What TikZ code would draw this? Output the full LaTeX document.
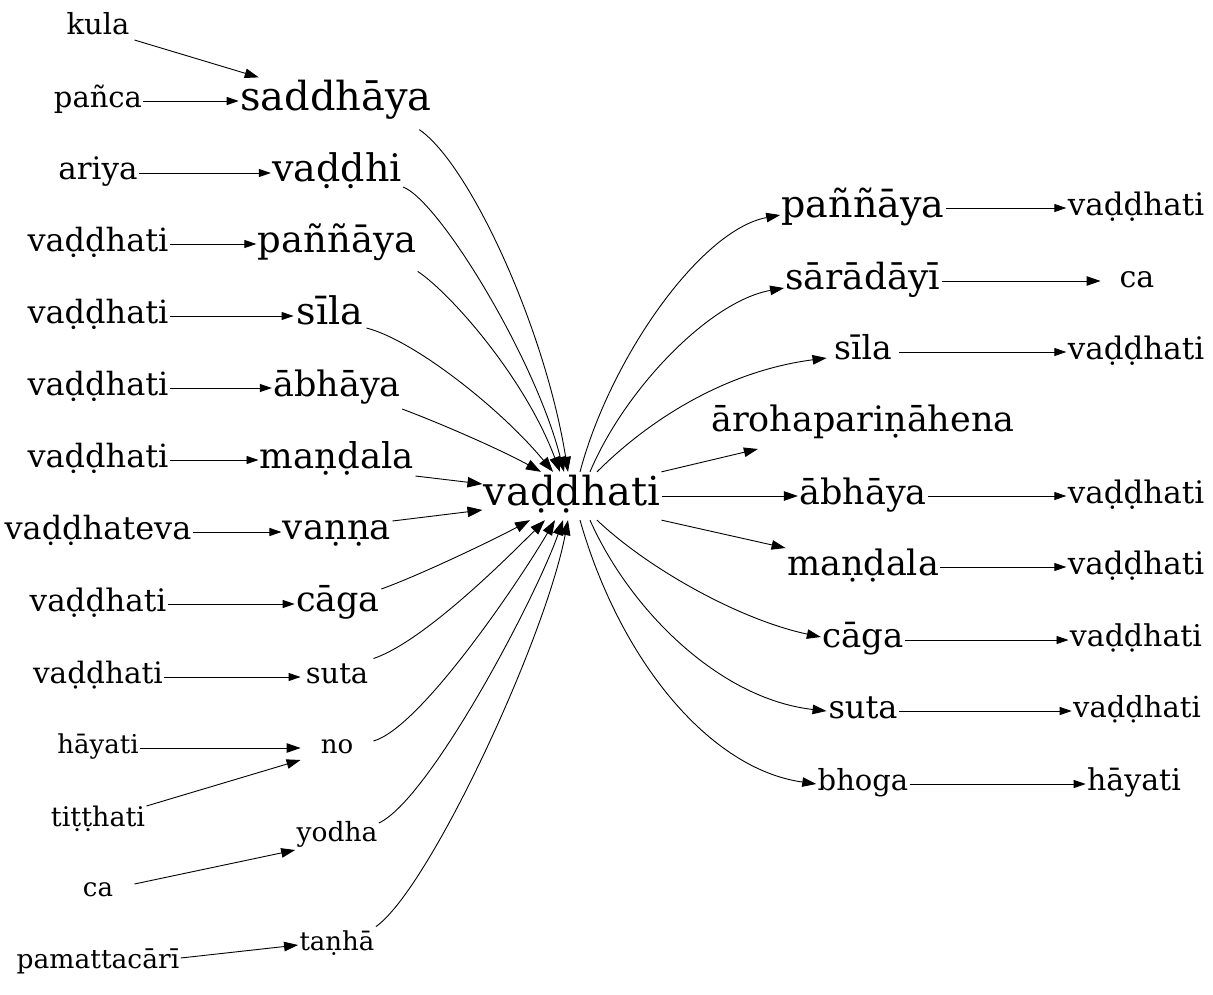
\documentclass[tikz,border=0pt]{standalone}
\usepackage{fontspec}
\setmainfont{DejaVu Serif}
\usetikzlibrary{arrows.meta}
\newcommand{\W}[2]{\fontsize{#1}{#1}\selectfont\rule[-0.3em]{0pt}{1.05em}#2}
\begin{document}
\begin{tikzpicture}[x=1pt,y=-1pt,line width=0.9pt,
  lbl/.style={inner xsep=1pt,inner ysep=2pt,minimum width=72pt,minimum height=36pt},
  sa/.style={-{Triangle[length=12pt,width=8pt]}},
  ma/.style={-{Triangle[length=14pt,width=9.5pt]}},
  ba/.style={-{Triangle[length=15pt,width=10.5pt]}}]
\useasboundingbox (0,0) rectangle (1213,995);
% left sources
\node[lbl] (s1) at (98,28) {\W{29}{kula}};
\node[lbl] (s2) at (98,101) {\W{29}{pañca}};
\node[lbl] (s3) at (98,173) {\W{31}{ariya}};
\node[lbl] (s4) at (98,244) {\W{32}{vaḍḍhati}};
\node[lbl] (s5) at (98,316) {\W{32}{vaḍḍhati}};
\node[lbl] (s6) at (98,388) {\W{32}{vaḍḍhati}};
\node[lbl] (s7) at (98,460) {\W{32}{vaḍḍhati}};
\node[lbl] (s8) at (98,532) {\W{32}{vaḍḍhateva}};
\node[lbl] (s9) at (98,604) {\W{31}{vaḍḍhati}};
\node[lbl] (s10) at (98,677) {\W{29.5}{vaḍḍhati}};
\node[lbl] (s11) at (98,748) {\W{26}{hāyati}};
\node[lbl] (s12) at (98,820) {\W{27}{tiṭṭhati}};
\node[lbl] (s13) at (98,891) {\W{26}{ca}};
\node[lbl] (s14) at (98,963) {\W{26.5}{pamattacārī}};
% middle
\node[lbl] (m1) at (336,101) {\W{40}{saddhāya}};
\node[lbl] (m2) at (337,173) {\W{38}{vaḍḍhi}};
\node[lbl] (m3) at (337,244) {\W{37}{paññāya}};
\node[lbl] (m4) at (330,316) {\W{38}{sīla}};
\node[lbl] (m5) at (337,388) {\W{35}{ābhāya}};
\node[lbl] (m6) at (337,460) {\W{35.5}{maṇḍala}};
\node[lbl] (m7) at (337,532) {\W{35.5}{vaṇṇa}};
\node[lbl] (m8) at (338,604) {\W{35}{cāga}};
\node[lbl] (m9) at (337,677) {\W{29}{suta}};
\node[lbl] (m10) at (337,748) {\W{26}{no}};
\node[lbl] (m11) at (337,835) {\W{26.5}{yodha}};
\node[lbl] (m12) at (337,945) {\W{26}{taṇhā}};
% center
\node[lbl,inner ysep=2.5pt] (c) at (572,496) {\W{40}{vaḍḍhati}};
% right
\node[lbl] (r1) at (863,208) {\W{38}{paññāya}};
\node[lbl] (r2) at (863,281) {\W{36}{sārādāyī}};
\node[lbl] (r3) at (863,352) {\W{33}{sīla}};
\node[lbl] (r4) at (863,423) {\W{35}{ārohapariṇāhena}};
\node[lbl] (r5) at (863,496) {\W{35}{ābhāya}};
\node[lbl] (r6) at (863,567) {\W{35}{maṇḍala}};
\node[lbl] (r7) at (863,640) {\W{34}{cāga}};
\node[lbl] (r8) at (863,711) {\W{32}{suta}};
\node[lbl] (r9) at (863,784) {\W{29}{bhoga}};
% far right
\node[lbl] (f1) at (1136,208) {\W{31}{vaḍḍhati}};
\node[lbl] (f2) at (1137,281) {\W{30}{ca}};
\node[lbl] (f3) at (1136,352) {\W{31}{vaḍḍhati}};
\node[lbl] (f5) at (1136,496) {\W{31}{vaḍḍhati}};
\node[lbl] (f6) at (1136,567) {\W{31}{vaḍḍhati}};
\node[lbl] (f7) at (1136,640) {\W{30}{vaḍḍhati}};
\node[lbl] (f8) at (1137,711) {\W{29}{vaḍḍhati}};
\node[lbl] (f9) at (1134,784) {\W{30}{hāyati}};
% left edges
\draw[ma] ([yshift=-12pt]s1.east) -- ([xshift=20pt]m1.north west);
\draw[sa] (s2.east) -- (m1.west);
\draw[sa] (s3.east) -- (m2.west);
\draw[sa] (s4.east) -- (m3.west);
\draw[sa] (s5.east) -- (m4.west);
\draw[sa] (s6.east) -- (m5.west);
\draw[sa] (s7.east) -- (m6.west);
\draw[sa] (s8.east) -- (m7.west);
\draw[sa] (s9.east) -- (m8.west);
\draw[sa] (s10.east) -- (m9.west);
\draw[ma] (s11.east) -- (m10.west);
\draw[ma] ([yshift=14pt]s12.east) -- ([yshift=-12pt]m10.west);
\draw[ma] ([yshift=7pt]s13.east) -- ([yshift=-15pt]m11.west);
\draw[ma] ([yshift=5pt]s14.east) -- (m12.west);
% middle to center
\draw[ba] ([xshift=-14pt,yshift=-5pt]m1.south east) .. controls +(50,34) and +(-23,-144) .. ([xshift=-4pt]c.north);
\draw[ba] ([yshift=-14pt]m2.east) .. controls +(36,14) and +(-29,-114) .. ([xshift=-8pt]c.north);
\draw[ba] ([yshift=-5pt]m3.south east) .. controls +(33,22) and +(-35,-94) .. ([xshift=-12pt]c.north);
\draw[ba] ([yshift=-12pt]m4.east) .. controls +(47,12) and +(-53,-64) .. ([xshift=-19pt]c.north);
\draw[ba] (m5.south east) .. controls +(40,15) and +(-40,-22) .. ([xshift=-31pt]c.north);
\draw[ba] ([yshift=-16pt]m6.east) -- ([yshift=12pt]c.west);
\draw[ba] ([yshift=11pt]m7.east) -- ([yshift=-14pt]c.west);
\draw[ba] ([yshift=15pt]m8.east) .. controls +(39,-14) and +(-35,19) .. ([xshift=-42pt]c.south);
\draw[ba] (m9.north east) .. controls +(50,-17) and +(-40,40) .. ([xshift=-27pt]c.south);
\draw[ba] ([yshift=7pt]m10.east) .. controls +(47,-13) and +(-35,60) .. ([xshift=-17pt]c.south);
\draw[ba] ([yshift=12pt]m11.east) .. controls +(50,-23) and +(-28,80) .. ([xshift=-9pt]c.south);
\draw[ba] (m12.north east) .. controls +(53,-37) and +(-23,120) .. ([xshift=-4pt]c.south);
% center to right
\draw[ma] ([xshift=8pt]c.north) .. controls +(30,-113) and +(-80,15) .. ([yshift=-7pt]r1.west);
\draw[ma] ([xshift=18pt]c.north) .. controls +(35,-83) and +(-74,13) .. ([yshift=-7pt]r2.west);
\draw[ma] ([xshift=25pt]c.north) .. controls +(53,-53) and +(-100,13) .. ([yshift=-6pt]r3.west);
\draw[ma] (c.north east) -- ([xshift=48pt,yshift=-5pt]r4.south west);
\draw[ma] (c.east) -- (r5.west);
\draw[ma] (c.south east) -- ([yshift=-2pt]r6.north west);
\draw[ma] ([xshift=25pt]c.south) .. controls +(53,50) and +(-80,-17) .. ([yshift=3pt]r7.west);
\draw[ma] ([xshift=18pt]c.south) .. controls +(40,90) and +(-107,-12) .. (r8.west);
\draw[ma] ([xshift=8pt]c.south) .. controls +(40,140) and +(-107,-15) .. (r9.west);
% right to far right
\draw[sa] (r1.east) -- (f1.west);
\draw[ma] (r2.east) -- (f2.west);
\draw[sa] (r3.east) -- (f3.west);
\draw[sa] (r5.east) -- (f5.west);
\draw[sa] (r6.east) -- (f6.west);
\draw[sa] (r7.east) -- (f7.west);
\draw[sa] (r8.east) -- (f8.west);
\draw[sa] (r9.east) -- (f9.west);
\end{tikzpicture}
\end{document}
